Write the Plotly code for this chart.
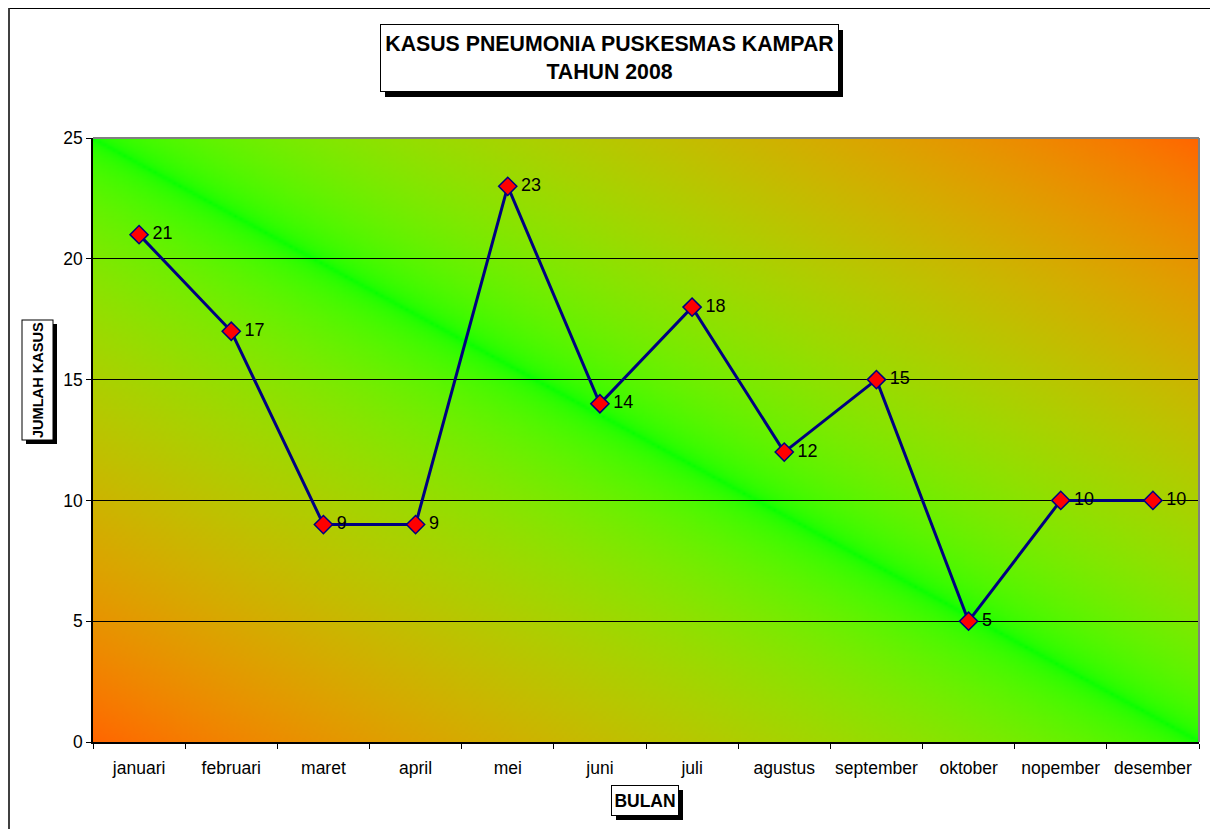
import base64
import struct
import zlib

import numpy as np
import plotly.graph_objects as go

# data
bulan = ["januari", "februari", "maret", "april", "mei", "juni", "juli",
         "agustus", "september", "oktober", "nopember", "desember"]
kasus = [21, 17, 9, 9, 23, 14, 18, 12, 15, 5, 10, 10]
y_ticks = [0, 5, 10, 15, 20, 25]

W, H = 1218, 829
OFF = 8  # page body margin
# plot area in screen pixels
L, R, T, B = 93, 1199, 138, 742
FONT = "Arial, Liberation Sans, sans-serif"


def px(x):
    return (x - L) / (R - L)


def py(y):
    return (B - y) / (B - T)


def png_uri(rgb):
    h, w, _ = rgb.shape
    raw = b"".join(b"\x00" + rgb[i].tobytes() for i in range(h))

    def chunk(tag, data):
        c = struct.pack(">I", len(data)) + tag + data
        return c + struct.pack(">I", zlib.crc32(tag + data) & 0xffffffff)

    png = (b"\x89PNG\r\n\x1a\n"
           + chunk(b"IHDR", struct.pack(">IIBBBBB", w, h, 8, 2, 0, 0, 0))
           + chunk(b"IDAT", zlib.compress(raw, 9))
           + chunk(b"IEND", b""))
    return "data:image/png;base64," + base64.b64encode(png).decode()


# diagonal two-colour fill for the plot area (green on the diagonal, orange in the corners)
gw, gh = 400, 220
u = np.linspace(0, 1, gw)[None, :]
v = np.linspace(0, 1, gh)[:, None]
t = np.abs(u - v) ** 0.95
c1 = (np.array([5, 255, 0]) / 255.0) ** 2.2
c2 = (np.array([255, 102, 0]) / 255.0) ** 2.2
lin = c1[None, None, :] * (1 - t[..., None]) + c2[None, None, :] * t[..., None]
rgb = (np.clip(lin, 0, 1) ** (1 / 2.2) * 255).round().astype(np.uint8)

fig = go.Figure()

fig.add_trace(go.Scatter(
    x=bulan, y=kasus,
    mode="lines+markers+text",
    line=dict(color="#000080", width=3),
    marker=dict(symbol="diamond", size=14, color="#ff0000",
                line=dict(color="#000080", width=1.5)),
    text=["\u2009" + str(k) for k in kasus],
    textposition="middle right",
    textfont=dict(family=FONT, size=18, color="black"),
    cliponaxis=False,
    hoverinfo="x+y",
))

fig.add_layout_image(dict(
    source=png_uri(rgb), xref="x domain", yref="y domain",
    x=0, y=1, sizex=1, sizey=1, xanchor="left", yanchor="top",
    sizing="stretch", layer="below",
))

annotations = []
shapes = [
    # outer chart border + shadow
    dict(type="rect", xref="paper", yref="paper", x0=px(8.5), x1=px(1212),
         y0=py(845), y1=py(8.5), line=dict(color="black", width=1)),
    dict(type="line", xref="paper", yref="paper", x0=px(9), x1=px(9),
         y0=py(845), y1=py(8.5), line=dict(color="#404040", width=2)),
    dict(type="rect", xref="paper", yref="paper", x0=px(1213), x1=px(1222),
         y0=py(845), y1=py(12), fillcolor="black", line=dict(width=0)),
    # grey top / right edge of plot area
    dict(type="line", xref="x domain", yref="y domain", x0=0, x1=1, y0=1, y1=1,
         line=dict(color="#808080", width=2)),
    dict(type="line", xref="x domain", yref="y domain", x0=1, x1=1, y0=0, y1=1,
         line=dict(color="#808080", width=2)),
]


def boxed(text, x0, y0, x1, y1, size, angle=0, shadow=5):
    shapes.append(dict(type="rect", xref="paper", yref="paper",
                       x0=px(x0 + shadow), x1=px(x1 + shadow),
                       y0=py(y1 + shadow), y1=py(y0 + shadow),
                       fillcolor="black", line=dict(width=0)))
    w, h = x1 - x0 - 1, y1 - y0 - 1
    if angle:
        w, h = h, w
    annotations.append(dict(
        text=text, xref="paper", yref="paper",
        x=px((x0 + x1) / 2), y=py((y0 + y1) / 2),
        xanchor="center", yanchor="middle", showarrow=False,
        width=w, height=h, textangle=angle, borderpad=0, borderwidth=1,
        font=dict(family=FONT, size=size, color="black", weight="bold"),
        bgcolor="white", bordercolor="black"))


boxed("KASUS PNEUMONIA PUSKESMAS KAMPAR<br>TAHUN 2008", 380, 25, 838, 92, 21.3)
boxed("BULAN", 611, 785, 678, 815, 17.5)
boxed("JUMLAH KASUS", 22, 320, 53, 440, 14.6, angle=-90, shadow=4)

fig.update_layout(
    width=W, height=H,
    margin=dict(l=L - OFF, r=W - (R - OFF), t=T - OFF, b=H - (B - OFF), pad=0),
    paper_bgcolor="white",
    plot_bgcolor="rgba(0,0,0,0)",
    showlegend=False,
    annotations=annotations,
    shapes=shapes,
    font=dict(family=FONT, size=17.5, color="black"),
)

fig.update_xaxes(
    type="category", range=[-0.5, 11.5],
    showline=True, linecolor="black", linewidth=1.5,
    ticks="outside", tickson="boundaries", ticklen=5, tickcolor="black",
    showgrid=False, zeroline=False,
    tickfont=dict(family=FONT, size=17.5, color="black"),
    ticklabelstandoff=9,
)
fig.update_yaxes(
    range=[0, 25], tickvals=y_ticks,
    showline=True, linecolor="black", linewidth=1.5,
    ticks="outside", ticklen=5, tickcolor="black",
    showgrid=True, gridcolor="black", gridwidth=1,
    zeroline=False,
    tickfont=dict(family=FONT, size=17.5, color="black"),
)

fig.write_html("out.html")
